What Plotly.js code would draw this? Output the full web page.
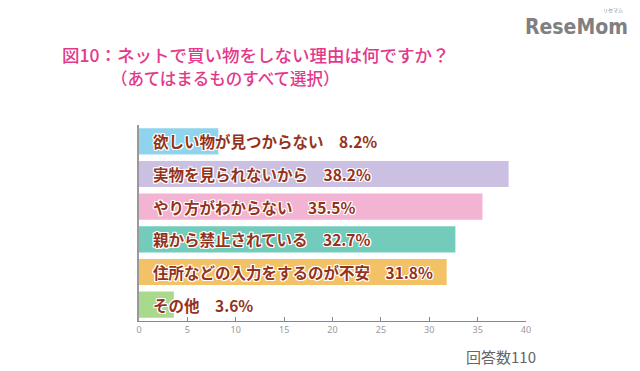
<!DOCTYPE html>
<html>
<head>
<meta charset="utf-8">
<script src="https://cdn.plot.ly/plotly-3.0.1.min.js"></script>
<style>
html,body{margin:0;padding:0;background:#fff;}
#chart{width:640px;height:371px;}
</style>
</head>
<body>
<div id="chart"></div>
<script>
const categories = [
  "欲しい物が見つからない",
  "実物を見られないから",
  "やり方がわからない",
  "親から禁止されている",
  "住所などの入力をするのが不安",
  "その他"
];
const values = [8.2, 38.2, 35.5, 32.7, 31.8, 3.6];
const barColors = ["#8fd3ec", "#cbbfe2", "#f3b3d3", "#72cbbb", "#f4c266", "#a8d98c"];
const tickVals = [0, 5, 10, 15, 20, 25, 30, 35, 40];
const titleLine1 = "図10：ネットで買い物をしない理由は何ですか？";
const titleLine2 = "（あてはまるものすべて選択）";
const noteText = "回答数110";
const logoText = "ReseMom";
const logoKana = "リセマム";

const jp = '"Noto Sans CJK JP", "Noto Sans", sans-serif';
const outline = "1px 0 0 #fff, -1px 0 0 #fff, 0 1px 0 #fff, 0 -1px 0 #fff, 1px 1px 0 #fff, -1px -1px 0 #fff, 1px -1px 0 #fff, -1px 1px 0 #fff";

const trace = {
  type: "bar",
  orientation: "h",
  x: values,
  y: categories,
  marker: {color: barColors, line: {width: 0}},
  hoverinfo: "none",
  showlegend: false
};

const annotations = categories.map((c, i) => ({
  x: 0, y: c, xref: "x", yref: "y",
  xanchor: "left", yanchor: "middle",
  xshift: 12, yshift: 0,
  text: "<b>" + c + "　" + values[i].toFixed(1) + "%</b>",
  showarrow: false,
  font: {family: jp, size: 15.5, color: "#94331c", shadow: outline}
}));

annotations.push({
  xref: "paper", yref: "paper", x: 1.03, y: -0.18,
  xanchor: "right", yanchor: "middle",
  text: noteText, showarrow: false,
  font: {family: jp, size: 15, color: "#666"}
});
annotations.push({
  xref: "paper", yref: "paper", x: -0.205, y: 1.36,
  xanchor: "left", yanchor: "middle",
  text: titleLine1, showarrow: false,
  font: {family: jp, size: 17.5, color: "#e3398c", weight: 500}
});
annotations.push({
  xref: "paper", yref: "paper", x: -0.077, y: 1.24,
  xanchor: "left", yanchor: "middle",
  text: titleLine2, showarrow: false,
  font: {family: jp, size: 16.5, color: "#e3398c", weight: 500}
});
annotations.push({
  xref: "paper", yref: "paper", x: 1.27, y: 1.5,
  xanchor: "right", yanchor: "middle",
  text: "<b>" + logoText + "</b>", showarrow: false,
  font: {family: '"DejaVu Sans Condensed", "Liberation Sans Narrow", "Liberation Sans", sans-serif', size: 21, color: "#808080"}
});
annotations.push({
  xref: "paper", yref: "paper", x: 1.255, y: 1.585,
  xanchor: "right", yanchor: "middle",
  text: logoKana, showarrow: false,
  font: {family: jp, size: 5, color: "#888"}
});

const layout = {
  width: 640, height: 371,
  margin: {l: 139, r: 114, t: 125, b: 50},
  paper_bgcolor: "#fff",
  plot_bgcolor: "#fff",
  bargap: 0.2,
  xaxis: {
    range: [0, 40],
    tickvals: tickVals,
    ticks: "inside", ticklen: 4, tickcolor: "#888", tickwidth: 1,
    showgrid: false, zeroline: false,
    showline: true, linecolor: "#888", linewidth: 1,
    tickfont: {family: '"Noto Sans", sans-serif', size: 9, color: "#999"}
  },
  yaxis: {
    type: "category",
    autorange: "reversed",
    showticklabels: false,
    ticks: "",
    showgrid: false, zeroline: false,
    showline: true, linecolor: "#999", linewidth: 2
  },
  annotations: annotations
};

Plotly.newPlot("chart", [trace], layout, {displayModeBar: false, staticPlot: true});
</script>
</body>
</html>
